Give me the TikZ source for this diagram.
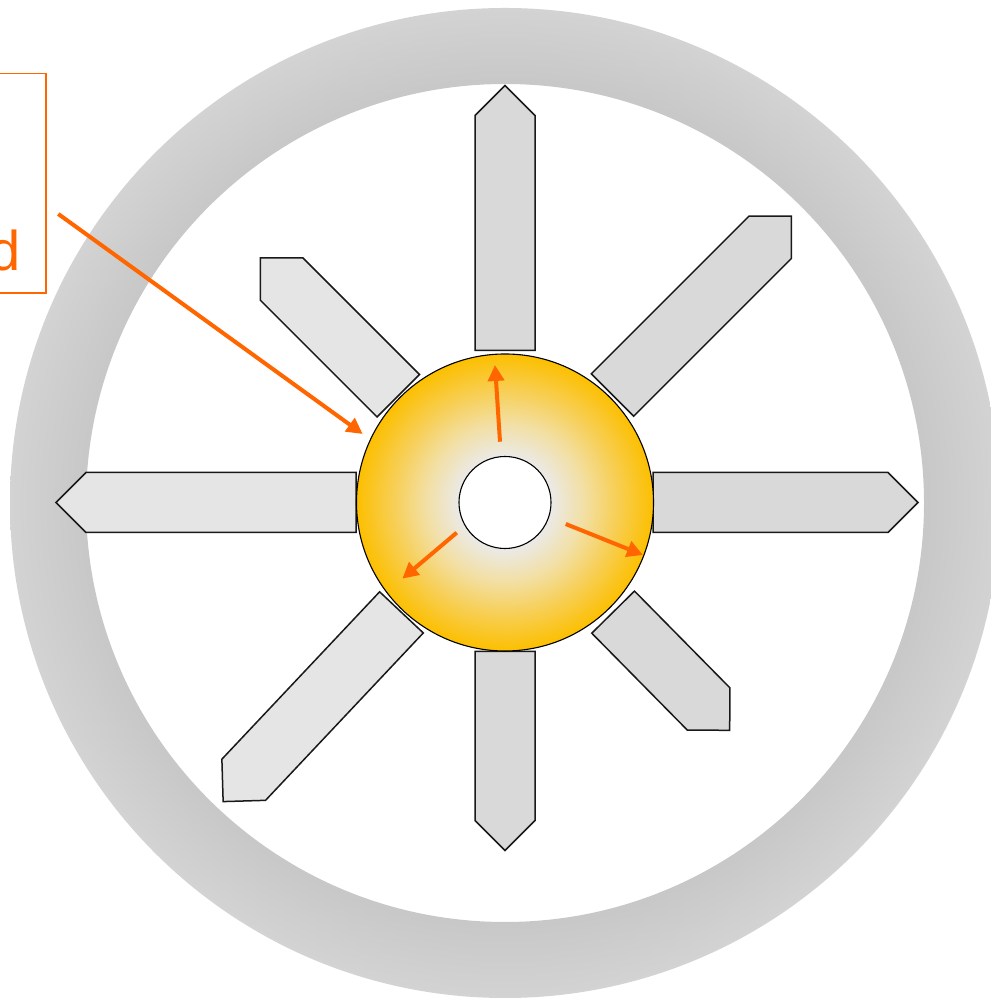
\documentclass[tikz,border=0pt]{standalone}
\usepackage{fontspec}
\setmainfont{Liberation Sans}
\usetikzlibrary{arrows.meta}
\definecolor{ringin}{HTML}{C7C7C7}
\definecolor{ringout}{HTML}{D3D3D3}
\definecolor{bladeL}{HTML}{E5E5E5}
\definecolor{bladeD}{HTML}{D9D9D9}
\definecolor{arrowor}{HTML}{FF6600}
\definecolor{hubA}{HTML}{EEEEEE}
\definecolor{hubB}{HTML}{EAEAEA}
\definecolor{hubC}{HTML}{F2E0A8}
\definecolor{hubD}{HTML}{F8CD4C}
\definecolor{hubE}{HTML}{FCBF00}
\pgfdeclareradialshading{hubshade}{\pgfpoint{0bp}{0bp}}{color(0bp)=(hubA); color(7.5bp)=(hubB); color(13bp)=(hubC); color(19.5bp)=(hubD); color(25bp)=(hubE); color(50bp)=(hubE)}
\pgfdeclareradialshading{ringshade}{\pgfpoint{0bp}{0bp}}{color(0bp)=(ringin); color(21bp)=(ringin); color(25bp)=(ringout); color(50bp)=(ringout)}
\tikzset{
  bladestyle/.style={draw=black!90, line width=1.5pt, line join=miter},
  arr/.style={draw=arrowor, line width=4pt, -{Triangle[length=16pt,width=16pt]}},
  boxstyle/.style={draw=arrowor, line width=1.6pt, inner sep=0pt},
}
\newcommand{\drawblade}[4]{%
  \begin{scope}[shift={(505,497.5)}, rotate=#1]
    \filldraw[bladestyle, fill=#4] (#2,-30) -- ({#3-30},-30) -- (#3,0) -- ({#3-30},30) -- (#2,30) -- cycle;
  \end{scope}}
\begin{document}
\begin{tikzpicture}[x=1pt,y=1pt]
\useasboundingbox (0,0) rectangle (990,1000);
% outer ring
\shade[shading=ringshade, even odd rule] (505,497) circle[radius=495pt] (505,497) circle[radius=419pt];
% blades
\drawblade{90}{152}{417}{bladeD}
\drawblade{45}{152}{405}{bladeD}
\drawblade{0}{148}{413}{bladeD}
\drawblade{-45.4}{154}{320}{bladeD}
\drawblade{-90}{149}{348}{bladeD}
\drawblade{-133.3}{151}{411}{bladeL}
\drawblade{180}{149}{449}{bladeL}
\drawblade{135}{151}{346}{bladeL}
% hub
\node[circle, draw=black, line width=1.1pt, minimum size=297pt, inner sep=0pt, shading=hubshade] (hub) at (505,497.5) {};
\node[circle, draw=black, line width=1.1pt, fill=white, minimum size=92pt, inner sep=0pt] (hole) at (hub.center) {};
% label box (cut off at the left edge, as in the reference)
\node[boxstyle, minimum width=247pt, minimum height=219.6pt, anchor=north east] (labelbox) at (47,927.3) {};
\node[anchor=base east, inner sep=0pt, text=arrowor, font=\fontsize{56}{60}\selectfont] (labeltext) at (20.5,729) {d};
% arrows
\coordinate (s0) at (58.3,786);
\coordinate (e0) at (362.7,566);
\coordinate (s1) at (500,558.3);
\coordinate (e1) at (495,635);
\coordinate (s2) at (565.7,476);
\coordinate (e2) at (643,445);
\coordinate (s3) at (456.7,467.3);
\coordinate (e3) at (402.3,421.3);
\draw[arr] (s0) -- (e0);
\draw[arr] (s1) -- (e1);
\draw[arr] (s2) -- (e2);
\draw[arr] (s3) -- (e3);
\end{tikzpicture}
\end{document}
